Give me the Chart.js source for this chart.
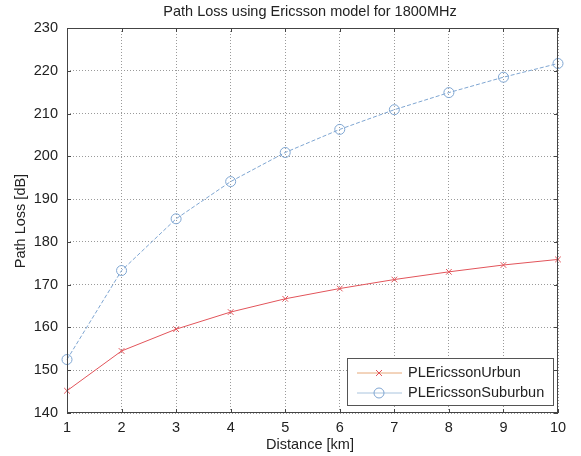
<!DOCTYPE html>
<html>
<head>
<meta charset="utf-8">
<script src="https://cdn.jsdelivr.net/npm/chart.js@4.4.1/dist/chart.umd.min.js"></script>
<style>
  html, body { margin: 0; padding: 0; background: #fff; }
  #wrap { width: 581px; height: 456px; }
</style>
</head>
<body>
<div id="wrap"><canvas id="grafico" width="581" height="456"></canvas></div>
<script>
// data
const distancias = [1, 2, 3, 4, 5, 6, 7, 8, 9, 10];
const plUrbano = [145.2, 154.5, 159.6, 163.6, 166.7, 169.1, 171.2, 173.0, 174.6, 175.9];
const plSuburbano = [152.5, 173.3, 185.4, 194.1, 200.9, 206.3, 210.9, 214.9, 218.5, 221.7];
const ticksY = [140, 150, 160, 170, 180, 190, 200, 210, 220, 230];
const ticksX = [1, 2, 3, 4, 5, 6, 7, 8, 9, 10];

const fuente = "'Liberation Sans', Arial, sans-serif";
const tamFuente = 14.5;
const rojo = "#e2545a";
const azul = "#7fa6d2";

// caja, ticks hacia dentro, titulos y leyenda estilo matlab
const estiloMatlab = {
  id: "estiloMatlab",
  afterDraw(chart) {
    const ctx = chart.ctx;
    const a = chart.chartArea;
    const sx = chart.scales.x, sy = chart.scales.y;
    ctx.save();
    ctx.strokeStyle = "#444";
    ctx.lineWidth = 1;
    ctx.strokeRect(a.left + 0.5, a.top + 0.5, a.right - a.left - 1, a.bottom - a.top - 1);
    ctx.beginPath();
    ticksX.forEach((v) => {
      const x = Math.round(sx.getPixelForValue(v)) + 0.5;
      ctx.moveTo(x, a.bottom); ctx.lineTo(x, a.bottom - 4);
      ctx.moveTo(x, a.top); ctx.lineTo(x, a.top + 4);
    });
    ticksY.forEach((v) => {
      const y = Math.round(sy.getPixelForValue(v)) + 0.5;
      ctx.moveTo(a.left, y); ctx.lineTo(a.left + 4, y);
      ctx.moveTo(a.right, y); ctx.lineTo(a.right - 4, y);
    });
    ctx.stroke();

    // textos
    ctx.fillStyle = "#222";
    ctx.font = tamFuente + "px " + fuente;
    ctx.textAlign = "center";
    ctx.textBaseline = "middle";
    ctx.fillText("Path Loss using Ericsson model for 1800MHz", 310, 12);
    ctx.fillText("Distance [km]", 310, 445);
    ctx.save();
    ctx.translate(21, 221);
    ctx.rotate(-Math.PI / 2);
    ctx.fillText("Path Loss [dB]", 0, 0);
    ctx.restore();

    // leyenda
    const lx = 347, ly = 358, lw = 206, lh = 47;
    ctx.fillStyle = "#fff";
    ctx.fillRect(lx, ly, lw, lh);
    ctx.strokeStyle = "#555";
    ctx.strokeRect(lx + 0.5, ly + 0.5, lw, lh);
    const items = [
      { txt: "PLEricssonUrbun", linea: "#e6a878", color: rojo, marca: "cross" },
      { txt: "PLEricssonSuburbun", linea: "#a9c4de", color: azul, marca: "circle" },
    ];
    items.forEach((it, i) => {
      const y = ly + 15 + i * 20;
      ctx.strokeStyle = it.linea;
      ctx.lineWidth = 1;
      ctx.beginPath(); ctx.moveTo(lx + 10, y); ctx.lineTo(lx + 55, y); ctx.stroke();
      const cx = lx + 32;
      ctx.strokeStyle = it.color;
      ctx.beginPath();
      if (it.marca === "cross") {
        ctx.moveTo(cx - 3, y - 3); ctx.lineTo(cx + 3, y + 3);
        ctx.moveTo(cx + 3, y - 3); ctx.lineTo(cx - 3, y + 3);
      } else {
        ctx.arc(cx, y, 5, 0, Math.PI * 2);
      }
      ctx.stroke();
      ctx.fillStyle = "#222";
      ctx.font = tamFuente + "px " + fuente;
      ctx.textAlign = "left";
      ctx.fillText(it.txt, lx + 61, y);
    });
    ctx.restore();
  },
};

const ctx = document.getElementById("grafico").getContext("2d");
const grafico = new Chart(ctx, {
  type: "line",
  data: {
    labels: distancias,
    datasets: [
      {
        label: "PLEricssonUrbun",
        data: distancias.map((d, i) => ({ x: d, y: plUrbano[i] })),
        borderColor: rojo,
        backgroundColor: "transparent",
        borderWidth: 1,
        pointStyle: "crossRot",
        pointRadius: 4,
        pointBorderColor: rojo,
        pointBorderWidth: 1,
        tension: 0,
        clip: false,
      },
      {
        label: "PLEricssonSuburbun",
        data: distancias.map((d, i) => ({ x: d, y: plSuburbano[i] })),
        borderColor: azul,
        backgroundColor: "transparent",
        borderWidth: 1,
        borderDash: [4, 2],
        pointStyle: "circle",
        pointRadius: 5,
        pointBorderColor: azul,
        pointBackgroundColor: "transparent",
        pointBorderWidth: 1,
        tension: 0,
        clip: false,
      },
    ],
  },
  options: {
    responsive: false,
    animation: false,
    layout: { padding: { left: 0, right: 23, top: 28, bottom: 0 } },
    plugins: {
      legend: { display: false },
      tooltip: { enabled: false },
      title: { display: false },
    },
    scales: {
      x: {
        type: "linear",
        min: 1,
        max: 10,
        afterFit: (s) => { s.height = 43; },
        afterBuildTicks: (s) => { s.ticks = ticksX.map((v) => ({ value: v })); },
        ticks: { color: "#222", font: { family: fuente, size: tamFuente }, padding: 6, maxRotation: 0 },
        grid: { color: "#9a9a9a", lineWidth: 1, drawTicks: false },
        border: { display: false, dash: [1, 2] },
      },
      y: {
        min: 140,
        max: 230,
        afterFit: (s) => { s.width = 67; },
        afterBuildTicks: (s) => { s.ticks = ticksY.map((v) => ({ value: v })); },
        ticks: { color: "#222", font: { family: fuente, size: tamFuente }, padding: 9 },
        grid: { color: "#9a9a9a", lineWidth: 1, drawTicks: false },
        border: { display: false, dash: [1, 2] },
      },
    },
  },
  plugins: [estiloMatlab],
});
</script>
</body>
</html>
